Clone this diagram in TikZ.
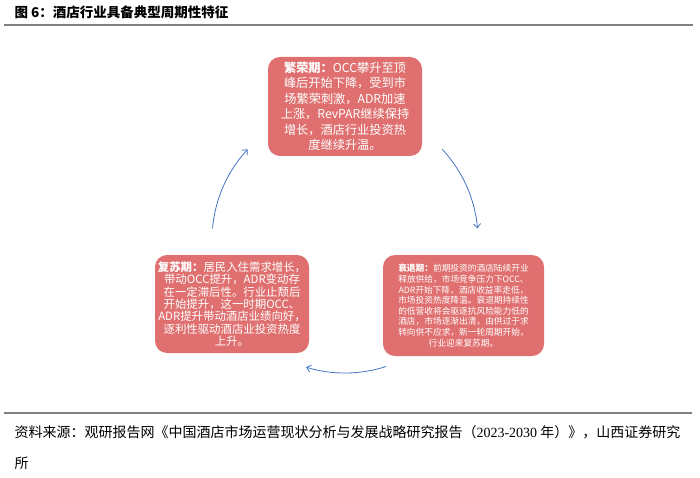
\documentclass[tikz,border=0pt]{standalone}
\usepackage{fontspec}
\setmainfont{Liberation Serif}
\newfontfamily\cjk{Noto Sans CJK SC}
\usetikzlibrary{calc,arrows.meta}
\definecolor{phasered}{RGB}{224,112,112}
\definecolor{cycleblue}{RGB}{68,114,196}
\definecolor{rulegray}{RGB}{128,128,128}
\tikzset{
	phase/.style={fill=phasered, rounded corners=12pt, text=white, align=center, inner sep=0pt},
	cyclearrow/.style={cycleblue, line width=0.8pt, -{Straight Barb[length=4pt,width=7pt]}},
	rule/.style={rulegray, line width=2pt}
}

\begin{document}
\begin{tikzpicture}[x=1pt, y=1pt]
			%%%%% START %%%%%
			
			\useasboundingbox (0, 0) rectangle (700, 477);
			
			\node[anchor=west, font=\cjk\bfseries\fontsize{13.5}{16}\selectfont] (title) at (11, 465) {图 6：酒店行业具备典型周期性特征};
			\draw[rule] (4, 451.5) -- (693, 451.5);
			
			\node[phase, minimum width=154pt, minimum height=99pt, font=\cjk\fontsize{12.2}{15.5}\selectfont] (boom) at (345, 370.5)
				{{\bfseries 繁荣期：}OCC攀升至顶\\峰后开始下降，受到市\\场繁荣刺激，ADR加速\\上涨，RevPAR继续保持\\增长，酒店行业投资热\\度继续升温。};
			
			\node[phase, minimum width=154pt, minimum height=98pt, font=\cjk\fontsize{11.4}{12.4}\selectfont] (recovery) at (232, 173)
				{{\bfseries 复苏期：}居民入住需求增长，\\带动OCC提升，ADR变动存\\在一定滞后性。行业止颓后\\开始提升，这一时期OCC、\\ADR提升带动酒店业绩向好，\\逐利性驱动酒店业投资热度\\上升。};
			
			\node[phase, minimum width=161pt, minimum height=101pt, font=\cjk\fontsize{8.7}{10.6}\selectfont] (decline) at (463.5, 171.5)
				{{\bfseries 衰退期：}前期投资的酒店陆续开业\\释放供给，市场竞争压力下OCC、\\ADR开始下降，酒店收益率走低，\\市场投资热度降温。衰退期持续性\\的低营收将会驱逐抗风险能力低的\\酒店，市场逐渐出清，由供过于求\\转向供不应求，新一轮周期开始，\\行业迎来复苏期。};
			
			% cycle arcs round one centre
			\coordinate (ctr) at (345, 237);
			\coordinate (boomout) at ($(ctr)+(43:133)$);
			\coordinate (declineout) at ($(ctr)+(-72:133)$);
			\coordinate (recoveryout) at ($(ctr)+(175:133)$);
			\draw[cyclearrow] (boomout) arc[start angle=43, end angle=5, radius=133];
			\draw[cyclearrow] (declineout) arc[start angle=-72, end angle=-107, radius=133];
			\draw[cyclearrow] (recoveryout) arc[start angle=175, end angle=137, radius=133];
			
			\draw[rule] (4, 64) -- (692, 64);
			\node[anchor=west, font=\cjk\fontsize{14}{16}\selectfont] (source) at (11, 45) {资料来源：观研报告网《中国酒店市场运营现状分析与发展战略研究报告（{\rmfamily 2023-2030} 年）》，山西证券研究};
			\node[anchor=west, font=\cjk\fontsize{14}{16}\selectfont] (sourcetail) at (11, 14) {所};
			
			%%%%% END %%%%%
\end{tikzpicture}
\end{document}
